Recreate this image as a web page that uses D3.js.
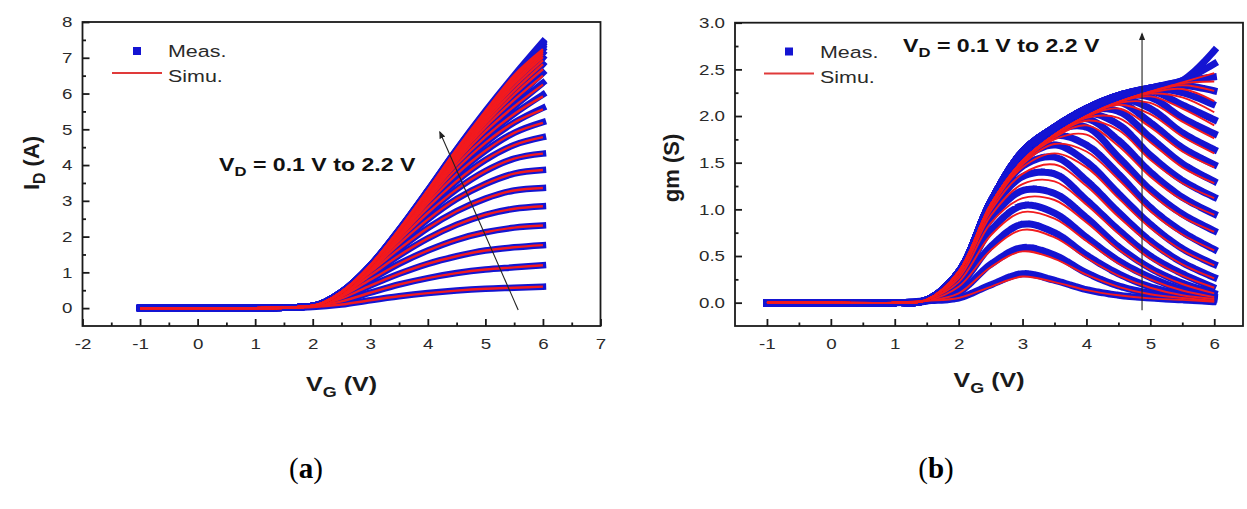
<!DOCTYPE html>
<html>
<head>
<meta charset="utf-8">
<script src="https://cdn.jsdelivr.net/npm/d3@7/dist/d3.min.js"></script>
<style>
  html, body { margin: 0; padding: 0; background: #fff; }
  svg { display: block; }
</style>
</head>
<body>
<svg id="chart" width="1247" height="509" font-family="'Liberation Sans', Arial, sans-serif"></svg>
<script>
// Gate voltage grid shared by every curve (V)
const vg = [-1, 0, 1, 1.5, 2, 2.5, 3, 3.5, 4, 4.5, 5, 5.5, 6];
// Drain voltage of each curve (V), 0.1 V to 2.2 V
const vd = [0.1, 0.2, 0.3, 0.4, 0.5, 0.6, 0.7, 0.8, 0.9, 1.0, 1.1,
            1.2, 1.3, 1.4, 1.5, 1.6, 1.7, 1.8, 1.9, 2.0, 2.1, 2.2];

// (a) drain current I_D (A), one row per V_D
const idMeas = [
  [0, 0, 0, 0.01, 0.03, 0.10, 0.22, 0.33, 0.42, 0.49, 0.54, 0.57, 0.60],
  [0, 0, 0, 0.01, 0.05, 0.19, 0.43, 0.66, 0.84, 0.98, 1.08, 1.14, 1.20],
  [0, 0, 0, 0.01, 0.055, 0.27, 0.63, 0.96, 1.24, 1.45, 1.61, 1.70, 1.76],
  [0, 0, 0, 0.01, 0.058, 0.33, 0.79, 1.24, 1.61, 1.91, 2.12, 2.25, 2.31],
  [0, 0, 0, 0.01, 0.06, 0.37, 0.91, 1.47, 1.95, 2.33, 2.61, 2.78, 2.85],
  [0, 0, 0, 0.01, 0.06, 0.40, 1.00, 1.65, 2.24, 2.71, 3.06, 3.29, 3.36],
  [0, 0, 0, 0.01, 0.06, 0.42, 1.05, 1.79, 2.48, 3.05, 3.47, 3.76, 3.86],
  [0, 0, 0, 0.01, 0.06, 0.43, 1.10, 1.89, 2.66, 3.32, 3.83, 4.18, 4.32],
  [0, 0, 0, 0.01, 0.06, 0.43, 1.12, 1.97, 2.81, 3.55, 4.14, 4.56, 4.78],
  [0, 0, 0, 0.01, 0.06, 0.44, 1.14, 2.02, 2.93, 3.74, 4.40, 4.90, 5.20],
  [0, 0, 0, 0.01, 0.06, 0.44, 1.16, 2.06, 3.01, 3.89, 4.62, 5.19, 5.60],
  [0, 0, 0, 0.01, 0.06, 0.44, 1.16, 2.09, 3.08, 4.01, 4.79, 5.43, 5.97],
  [0, 0, 0, 0.01, 0.06, 0.44, 1.17, 2.12, 3.13, 4.10, 4.94, 5.64, 6.30],
  [0, 0, 0, 0.01, 0.06, 0.45, 1.18, 2.14, 3.17, 4.18, 5.06, 5.82, 6.58],
  [0, 0, 0, 0.01, 0.06, 0.45, 1.18, 2.15, 3.20, 4.24, 5.16, 5.97, 6.82],
  [0, 0, 0, 0.01, 0.06, 0.45, 1.18, 2.16, 3.22, 4.29, 5.24, 6.08, 7.00],
  [0, 0, 0, 0.01, 0.06, 0.45, 1.19, 2.17, 3.24, 4.33, 5.31, 6.19, 7.13],
  [0, 0, 0, 0.01, 0.06, 0.45, 1.19, 2.17, 3.26, 4.36, 5.37, 6.28, 7.23],
  [0, 0, 0, 0.01, 0.06, 0.45, 1.19, 2.18, 3.27, 4.39, 5.41, 6.35, 7.30],
  [0, 0, 0, 0.01, 0.06, 0.45, 1.19, 2.18, 3.28, 4.41, 5.45, 6.42, 7.36],
  [0, 0, 0, 0.01, 0.06, 0.45, 1.19, 2.19, 3.29, 4.43, 5.48, 6.47, 7.41],
  [0, 0, 0, 0.01, 0.06, 0.45, 1.20, 2.20, 3.30, 4.44, 5.51, 6.51, 7.45]
];
const idSimu = [
  [0, 0, 0, 0.01, 0.03, 0.10, 0.22, 0.33, 0.42, 0.49, 0.54, 0.57, 0.60],
  [0, 0, 0, 0.01, 0.05, 0.19, 0.43, 0.66, 0.84, 0.98, 1.08, 1.14, 1.20],
  [0, 0, 0, 0.01, 0.055, 0.27, 0.63, 0.96, 1.24, 1.45, 1.61, 1.70, 1.76],
  [0, 0, 0, 0.01, 0.058, 0.33, 0.79, 1.24, 1.61, 1.91, 2.12, 2.25, 2.31],
  [0, 0, 0, 0.01, 0.06, 0.37, 0.91, 1.47, 1.95, 2.33, 2.61, 2.78, 2.85],
  [0, 0, 0, 0.01, 0.06, 0.40, 1.00, 1.65, 2.24, 2.71, 3.06, 3.29, 3.36],
  [0, 0, 0, 0.01, 0.06, 0.42, 1.05, 1.79, 2.48, 3.05, 3.47, 3.76, 3.86],
  [0, 0, 0, 0.01, 0.06, 0.43, 1.10, 1.89, 2.66, 3.32, 3.83, 4.18, 4.32],
  [0, 0, 0, 0.01, 0.06, 0.43, 1.12, 1.97, 2.81, 3.55, 4.14, 4.56, 4.78],
  [0, 0, 0, 0.01, 0.06, 0.44, 1.14, 2.02, 2.93, 3.74, 4.40, 4.90, 5.18],
  [0, 0, 0, 0.01, 0.06, 0.44, 1.16, 2.06, 3.01, 3.89, 4.62, 5.19, 5.56],
  [0, 0, 0, 0.01, 0.06, 0.44, 1.16, 2.09, 3.08, 4.01, 4.79, 5.43, 5.92],
  [0, 0, 0, 0.01, 0.06, 0.44, 1.17, 2.12, 3.13, 4.10, 4.94, 5.64, 6.25],
  [0, 0, 0, 0.01, 0.06, 0.45, 1.18, 2.14, 3.17, 4.18, 5.06, 5.82, 6.50],
  [0, 0, 0, 0.01, 0.06, 0.45, 1.18, 2.15, 3.20, 4.24, 5.16, 5.97, 6.68],
  [0, 0, 0, 0.01, 0.06, 0.45, 1.18, 2.16, 3.22, 4.29, 5.24, 6.08, 6.82],
  [0, 0, 0, 0.01, 0.06, 0.45, 1.19, 2.17, 3.24, 4.33, 5.31, 6.19, 6.93],
  [0, 0, 0, 0.01, 0.06, 0.45, 1.19, 2.17, 3.26, 4.36, 5.37, 6.28, 7.02],
  [0, 0, 0, 0.01, 0.06, 0.45, 1.19, 2.18, 3.27, 4.39, 5.41, 6.35, 7.09],
  [0, 0, 0, 0.01, 0.06, 0.45, 1.19, 2.18, 3.28, 4.41, 5.45, 6.42, 7.15],
  [0, 0, 0, 0.01, 0.06, 0.45, 1.19, 2.19, 3.29, 4.43, 5.48, 6.47, 7.20],
  [0, 0, 0, 0.01, 0.06, 0.45, 1.20, 2.20, 3.30, 4.44, 5.51, 6.51, 7.24]
];

// (b) transconductance gm (S), one row per V_D
const gmMeas = [
  [0, 0, 0, 0.02, 0.05, 0.19, 0.31, 0.24, 0.14, 0.08, 0.05, 0.03, 0.01],
  [0, 0, 0, 0.02, 0.11, 0.41, 0.59, 0.51, 0.32, 0.18, 0.10, 0.05, 0.02],
  [0, 0, 0, 0.02, 0.18, 0.60, 0.84, 0.75, 0.51, 0.31, 0.17, 0.09, 0.04],
  [0, 0, 0, 0.03, 0.23, 0.77, 1.04, 0.96, 0.70, 0.45, 0.27, 0.14, 0.06],
  [0, 0, 0, 0.03, 0.27, 0.89, 1.20, 1.17, 0.91, 0.60, 0.37, 0.21, 0.10],
  [0, 0, 0, 0.03, 0.30, 0.97, 1.35, 1.38, 1.10, 0.78, 0.50, 0.31, 0.16],
  [0, 0, 0, 0.03, 0.32, 1.02, 1.46, 1.56, 1.31, 0.97, 0.66, 0.43, 0.27],
  [0, 0, 0, 0.03, 0.33, 1.05, 1.53, 1.69, 1.51, 1.17, 0.84, 0.58, 0.41],
  [0, 0, 0, 0.03, 0.33, 1.07, 1.56, 1.79, 1.69, 1.38, 1.02, 0.76, 0.57],
  [0, 0, 0, 0.03, 0.33, 1.08, 1.58, 1.84, 1.88, 1.56, 1.21, 0.95, 0.77],
  [0, 0, 0, 0.03, 0.33, 1.08, 1.60, 1.86, 1.97, 1.74, 1.40, 1.13, 0.95],
  [0, 0, 0, 0.03, 0.33, 1.08, 1.61, 1.87, 2.03, 1.91, 1.58, 1.31, 1.13],
  [0, 0, 0, 0.03, 0.33, 1.08, 1.62, 1.88, 2.06, 2.05, 1.77, 1.49, 1.30],
  [0, 0, 0, 0.03, 0.33, 1.08, 1.62, 1.88, 2.07, 2.15, 1.93, 1.66, 1.48],
  [0, 0, 0, 0.03, 0.33, 1.08, 1.62, 1.88, 2.08, 2.19, 2.08, 1.82, 1.64],
  [0, 0, 0, 0.03, 0.33, 1.08, 1.62, 1.88, 2.08, 2.21, 2.20, 1.98, 1.81],
  [0, 0, 0, 0.03, 0.33, 1.08, 1.62, 1.88, 2.08, 2.22, 2.27, 2.12, 1.96],
  [0, 0, 0, 0.03, 0.33, 1.08, 1.62, 1.88, 2.08, 2.22, 2.29, 2.25, 2.12],
  [0, 0, 0, 0.03, 0.33, 1.08, 1.62, 1.88, 2.08, 2.22, 2.30, 2.33, 2.27],
  [0, 0, 0, 0.03, 0.33, 1.08, 1.62, 1.88, 2.08, 2.22, 2.30, 2.37, 2.42],
  [0, 0, 0, 0.03, 0.33, 1.08, 1.62, 1.88, 2.08, 2.22, 2.30, 2.38, 2.56],
  [0, 0, 0, 0.03, 0.33, 1.08, 1.62, 1.88, 2.08, 2.22, 2.30, 2.38, 2.70]
];
const gmSimu = [
  [0, 0, 0, 0.02, 0.05, 0.17, 0.28, 0.22, 0.135, 0.08, 0.046, 0.03, 0.01],
  [0, 0, 0, 0.02, 0.10, 0.38, 0.55, 0.47, 0.30, 0.17, 0.09, 0.05, 0.02],
  [0, 0, 0, 0.02, 0.17, 0.56, 0.78, 0.70, 0.48, 0.29, 0.16, 0.08, 0.04],
  [0, 0, 0, 0.03, 0.22, 0.72, 0.97, 0.90, 0.66, 0.42, 0.25, 0.13, 0.06],
  [0, 0, 0, 0.03, 0.26, 0.85, 1.12, 1.10, 0.86, 0.57, 0.35, 0.20, 0.10],
  [0, 0, 0, 0.03, 0.29, 0.93, 1.27, 1.30, 1.05, 0.74, 0.47, 0.29, 0.16],
  [0, 0, 0, 0.03, 0.31, 0.98, 1.38, 1.48, 1.25, 0.92, 0.63, 0.41, 0.26],
  [0, 0, 0, 0.03, 0.32, 1.01, 1.45, 1.60, 1.45, 1.12, 0.80, 0.56, 0.40],
  [0, 0, 0, 0.03, 0.33, 1.03, 1.48, 1.70, 1.62, 1.32, 0.98, 0.73, 0.56],
  [0, 0, 0, 0.03, 0.33, 1.04, 1.50, 1.75, 1.80, 1.50, 1.17, 0.92, 0.76],
  [0, 0, 0, 0.03, 0.33, 1.05, 1.51, 1.77, 1.90, 1.68, 1.35, 1.10, 0.94],
  [0, 0, 0, 0.03, 0.33, 1.05, 1.52, 1.78, 1.95, 1.85, 1.53, 1.28, 1.12],
  [0, 0, 0, 0.03, 0.33, 1.05, 1.52, 1.79, 1.98, 1.98, 1.72, 1.45, 1.28],
  [0, 0, 0, 0.03, 0.33, 1.05, 1.52, 1.80, 1.99, 2.08, 1.88, 1.62, 1.45],
  [0, 0, 0, 0.03, 0.33, 1.05, 1.52, 1.80, 2.00, 2.12, 2.02, 1.78, 1.60],
  [0, 0, 0, 0.03, 0.33, 1.05, 1.52, 1.80, 2.00, 2.14, 2.14, 1.94, 1.76],
  [0, 0, 0, 0.03, 0.33, 1.05, 1.52, 1.80, 2.00, 2.15, 2.21, 2.08, 1.90],
  [0, 0, 0, 0.03, 0.33, 1.05, 1.52, 1.80, 2.00, 2.15, 2.24, 2.20, 2.04],
  [0, 0, 0, 0.03, 0.33, 1.05, 1.52, 1.80, 2.00, 2.15, 2.25, 2.29, 2.16],
  [0, 0, 0, 0.03, 0.33, 1.05, 1.52, 1.80, 2.00, 2.15, 2.26, 2.33, 2.27],
  [0, 0, 0, 0.03, 0.33, 1.05, 1.52, 1.80, 2.00, 2.15, 2.26, 2.35, 2.37],
  [0, 0, 0, 0.03, 0.33, 1.05, 1.52, 1.80, 2.00, 2.15, 2.26, 2.36, 2.46]
];

// Tick values
const idXTicks = [-2, -1, 0, 1, 2, 3, 4, 5, 6, 7];
const idYTicks = [0, 1, 2, 3, 4, 5, 6, 7, 8];
const gmXTicks = [-1, 0, 1, 2, 3, 4, 5, 6];
const gmYTicks = [0, 0.5, 1.0, 1.5, 2.0, 2.5, 3.0];

const BLUE = '#1414d2';
const RED = '#f21a1e';
const INK = '#1a1a1a';
const STRETCH = 1.25;
const SERIF = '"Liberation Serif", "Times New Roman", serif';

const svg = d3.select('#chart');

// Writes a text made of [string, isSubscript] parts.
function richText(parent, x, y, parts, opts) {
  const size = opts.size;
  const text = parent.append('text')
    .attr('transform', `translate(${x},${y}) rotate(${opts.rotate || 0}) scale(${opts.sx || 1},1)`)
    .attr('text-anchor', opts.anchor || 'start')
    .attr('font-size', size)
    .attr('font-weight', opts.weight || 'normal')
    .attr('fill', opts.color || INK);
  if (opts.family) text.attr('font-family', opts.family);
  let shifted = false;
  for (const [str, sub] of parts) {
    const span = text.append('tspan').text(str);
    if (sub && !shifted) { span.attr('dy', size * 0.28).attr('font-size', size * 0.72); shifted = true; }
    else if (!sub && shifted) { span.attr('dy', -size * 0.28); shifted = false; }
    if (opts.boldParts && opts.boldParts.includes(str)) span.attr('font-weight', 'bold');
  }
  return text;
}

function drawPanel(cfg) {
  const x = d3.scaleLinear().domain(cfg.xDomain).range(cfg.xRange);
  const y = d3.scaleLinear().domain(cfg.yDomain).range(cfg.yRange);
  const g = svg.append('g');

  g.append('clipPath').attr('id', cfg.id + '-clip')
    .append('rect')
    .attr('x', cfg.xRange[0]).attr('y', cfg.yRange[1])
    .attr('width', cfg.xRange[1] - cfg.xRange[0])
    .attr('height', cfg.yRange[0] - cfg.yRange[1]);

  const line = d3.line()
    .x((_, i) => x(vg[i]))
    .y(d => y(d))
    .curve(cfg.curve);

  const marks = g.append('g').attr('clip-path', `url(#${cfg.id}-clip)`);

  // measured points drawn as a dense band of square markers
  marks.append('g').selectAll('path')
    .data(cfg.meas)
    .join('path')
    .attr('d', line)
    .attr('fill', 'none')
    .attr('stroke', BLUE)
    .attr('stroke-width', cfg.bandWidth)
    .attr('stroke-linecap', 'square')
    .attr('stroke-dasharray', cfg.dash || null);

  marks.append('g').selectAll('path')
    .data(cfg.simu)
    .join('path')
    .attr('d', line)
    .attr('fill', 'none')
    .attr('stroke', RED)
    .attr('stroke-width', cfg.simuWidth);

  // axes with inward ticks
  const xAxis = g.append('g')
    .attr('transform', `translate(0,${cfg.yRange[0]})`)
    .call(d3.axisBottom(x).tickValues(cfg.xTicks).tickFormat(cfg.xFormat)
      .tickSizeInner(-7).tickSizeOuter(0).tickPadding(12));
  xAxis.append('g')
    .call(d3.axisBottom(x).tickValues(cfg.xMinor).tickFormat('')
      .tickSizeInner(-3.5).tickSizeOuter(0));

  const yAxis = g.append('g')
    .attr('transform', `translate(${cfg.xRange[0]},0)`)
    .call(d3.axisLeft(y).tickValues(cfg.yTicks).tickFormat(cfg.yFormat)
      .tickSizeInner(-7).tickSizeOuter(0).tickPadding(8));
  yAxis.append('g')
    .call(d3.axisLeft(y).tickValues(cfg.yMinor).tickFormat('')
      .tickSizeInner(-3.5).tickSizeOuter(0));

  for (const axis of [xAxis, yAxis]) {
    axis.selectAll('.domain').remove();
    axis.selectAll('line').attr('stroke', INK).attr('stroke-width', 1.8);
    axis.selectAll('text')
      .attr('font-size', 15)
      .attr('font-family', null)
      .attr('fill', '#2a2a2a')
      .attr('transform', `scale(${STRETCH},1)`);
  }

  g.append('rect')
    .attr('x', cfg.xRange[0]).attr('y', cfg.yRange[1])
    .attr('width', cfg.xRange[1] - cfg.xRange[0])
    .attr('height', cfg.yRange[0] - cfg.yRange[1])
    .attr('fill', 'none')
    .attr('stroke', INK)
    .attr('stroke-width', 1.8);

  // axis titles
  const midX = (cfg.xRange[0] + cfg.xRange[1]) / 2;
  richText(g, midX, cfg.xTitleY, [['V', false], ['G', true], [' (V)', false]],
    { size: 20, weight: 'bold', anchor: 'middle', sx: STRETCH });
  richText(g, cfg.yTitleX, cfg.yTitleY, cfg.yTitle,
    { size: 22, weight: 'bold', anchor: 'middle', rotate: -90 });

  // legend
  const lg = cfg.legend;
  g.append('rect')
    .attr('x', lg.x - 4).attr('y', lg.y - 4).attr('width', 8).attr('height', 8)
    .attr('fill', BLUE);
  g.append('line')
    .attr('x1', lg.x - 25).attr('x2', lg.x + 25)
    .attr('y1', lg.y + 22).attr('y2', lg.y + 22)
    .attr('stroke', '#e03a3a').attr('stroke-width', 2);
  richText(g, lg.x + 31, lg.y + 6, [['Meas.', false]], { size: 16.5, color: '#2a2a2a', sx: 1.3 });
  richText(g, lg.x + 31, lg.y + 31, [['Simu.', false]], { size: 16.5, color: '#2a2a2a', sx: 1.3 });

  // V_D annotation and sweep arrow
  richText(g, cfg.note.x, cfg.note.y,
    [['V', false], ['D', true], [' = 0.1 V to 2.2 V', false]],
    { size: 18.5, weight: 'bold', sx: STRETCH, color: '#111' });
  g.append('line')
    .attr('x1', x(cfg.arrow[0][0])).attr('y1', y(cfg.arrow[0][1]))
    .attr('x2', x(cfg.arrow[1][0])).attr('y2', y(cfg.arrow[1][1]))
    .attr('stroke', '#222').attr('stroke-width', 1.1)
    .attr('marker-end', 'url(#arrowhead)');
}

svg.append('defs').append('marker')
  .attr('id', 'arrowhead')
  .attr('viewBox', '0 0 10 10')
  .attr('refX', 8).attr('refY', 5)
  .attr('markerWidth', 7).attr('markerHeight', 7)
  .attr('orient', 'auto')
  .append('path')
  .attr('d', 'M0,1 L10,5 L0,9 Z')
  .attr('fill', '#222');

drawPanel({
  id: 'id',
  xDomain: [-2, 7], xRange: [82.5, 600.5],
  yDomain: [-0.5, 8], yRange: [326, 22],
  meas: idMeas, simu: idSimu,
  curve: d3.curveMonotoneX,
  bandWidth: 6.5, simuWidth: 2.4,
  xTicks: idXTicks, xMinor: d3.range(-1.5, 7, 1),
  yTicks: idYTicks, yMinor: d3.range(0.5, 8, 1),
  xFormat: d => String(d), yFormat: d => String(d),
  xTitleY: 391,
  yTitle: [['I', false], ['D', true], [' (A)', false]],
  yTitleX: 39, yTitleY: 163,
  legend: { x: 137, y: 51 },
  note: { x: 219, y: 171 },
  arrow: [[5.57, -0.05], [4.21, 4.92]]
});

drawPanel({
  id: 'gm',
  xDomain: [-1.5, 6.45], xRange: [735, 1243],
  yDomain: [-0.25, 3], yRange: [326, 22.7],
  meas: gmMeas, simu: gmSimu,
  curve: d3.curveCatmullRom.alpha(0.5),
  bandWidth: 7, simuWidth: 1.9,
  dash: '7,2.5',
  xTicks: gmXTicks, xMinor: d3.range(-0.5, 6.5, 1),
  yTicks: gmYTicks, yMinor: d3.range(0.25, 3, 0.5),
  xFormat: d => String(d), yFormat: d3.format('.1f'),
  xTitleY: 387,
  yTitle: [['gm (S)', false]],
  yTitleX: 679, yTitleY: 168,
  legend: { x: 789, y: 51.5 },
  note: { x: 903, y: 52 },
  arrow: [[4.87, -0.08], [4.87, 2.88]]
});

// panel captions
richText(svg, 306, 478, [['(', false], ['a', false], [')', false]],
  { size: 29, anchor: 'middle', family: SERIF, boldParts: ['a'], color: '#000' });
richText(svg, 936, 478, [['(', false], ['b', false], [')', false]],
  { size: 29, anchor: 'middle', family: SERIF, boldParts: ['b'], color: '#000' });
</script>
</body>
</html>
